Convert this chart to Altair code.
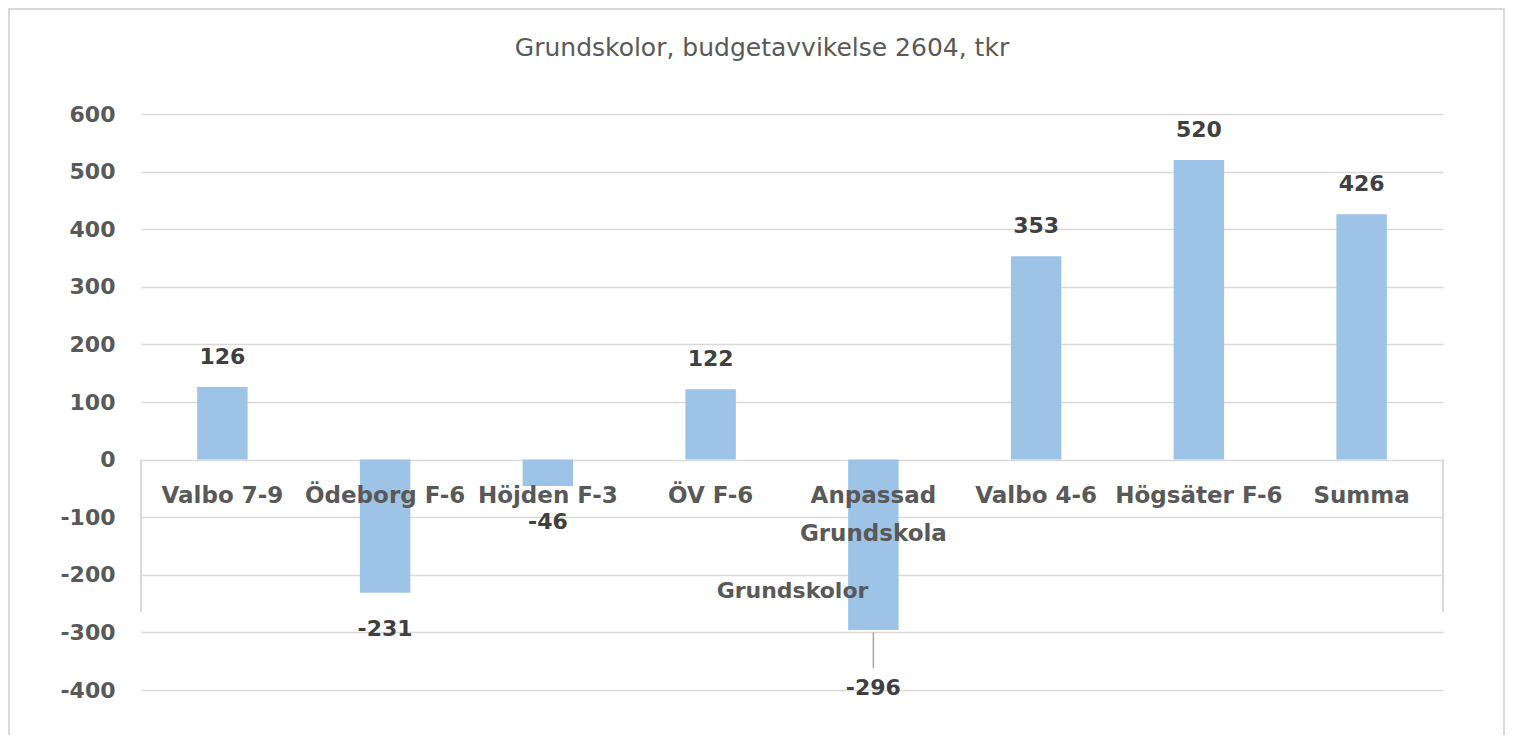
import altair as alt
import pandas as pd

title_text = "Grundskolor, budgetavvikelse 2604, tkr"
categories = ["Valbo 7-9", "Ödeborg F-6", "Höjden F-3", "ÖV F-6",
              "Anpassad Grundskola", "Valbo 4-6", "Högsäter F-6", "Summa"]
values = [126, -231, -46, 122, -296, 353, 520, 426]
y_ticks = [600, 500, 400, 300, 200, 100, 0, -100, -200, -300, -400]

df = pd.DataFrame({"Kategori": categories, "Värde": values})

FONT = "DejaVu Sans"
GREY = "#595959"
DARK = "#404040"
GRID = "#D9D9D9"
BAR = "#9DC3E6"

W, H = 1302, 576

xenc = alt.X(
    "Kategori:N",
    sort=categories,
    scale=alt.Scale(paddingInner=0.69, paddingOuter=0.345),
    axis=alt.Axis(
        orient="bottom",
        offset=-(H * 400 / 1000),
        domain=False,
        ticks=False,
        labelAngle=0,
        labelPadding=25,
        labelFont=FONT,
        labelFontSize=23,
        labelFontWeight="bold",
        labelColor=GREY,
        labelLineHeight=38,
        labelBaseline="top",
        labelExpr="datum.value == 'Anpassad Grundskola' ? ['Anpassad', 'Grundskola'] : datum.label",
        title="Grundskolor",
        titleFont=FONT,
        titleFontSize=22,
        titleFontWeight="bold",
        titleColor=GREY,
        titlePadding=35,
        zindex=2,
    ),
)

yscale = alt.Scale(domain=[-400, 600], nice=False, zero=False)
yenc = alt.Y(
    "Värde:Q",
    scale=yscale,
    axis=alt.Axis(
        values=y_ticks,
        domain=False,
        ticks=False,
        grid=True,
        gridColor=GRID,
        gridWidth=1.5,
        labelFont=FONT,
        labelFontSize=22,
        labelFontWeight="bold",
        labelColor=GREY,
        labelPadding=26,
        labelExpr="toString(datum.value)",
        title=None,
    ),
)

base = alt.Chart(df).transform_calculate(lbl="toString(datum['Värde'])")
xs = alt.X("Kategori:N", sort=categories)
ys = alt.Y("Värde:Q", scale=yscale)

bars = alt.Chart(df).mark_bar(color=BAR).encode(x=xenc, y=yenc, y2=alt.datum(0))

txt = dict(font=FONT, fontSize=22, fontWeight="bold", color=DARK, baseline="middle")

lab_pos = base.transform_filter("datum['Värde'] >= 0").mark_text(dy=-30, **txt).encode(
    x=xs, y=ys, text="lbl:N")

lab_neg = base.transform_filter(
    "datum['Värde'] < 0 && datum['Kategori'] != 'Anpassad Grundskola'"
).mark_text(dy=36, **txt).encode(x=xs, y=ys, text="lbl:N")

lab_moved = base.transform_filter("datum['Kategori'] == 'Anpassad Grundskola'").mark_text(
    dy=58, **txt).encode(x=xs, y=ys, text="lbl:N")

leader = alt.Chart(df).transform_filter("datum['Kategori'] == 'Anpassad Grundskola'").mark_rule(
    color="#A6A6A6", strokeWidth=1.5
).encode(x=xs, y=alt.datum(-300), y2=alt.datum(-362))

# frame lines of the category-label area
box_l = alt.Chart(df).transform_filter("datum['Kategori'] == 'Summa'").mark_rule(
    color=GRID, strokeWidth=2).encode(x=alt.value(0), y=alt.datum(0), y2=alt.datum(-265))
box_r = alt.Chart(df).transform_filter("datum['Kategori'] == 'Summa'").mark_rule(
    color=GRID, strokeWidth=2).encode(x=alt.value(W), y=alt.datum(0), y2=alt.datum(-265))

frame = alt.Chart(df).transform_filter("datum['Kategori'] == 'Summa'").mark_rect(
    fill=None, stroke=GRID, strokeWidth=2).encode(
    x=alt.value(-132), x2=alt.value(1363), y=alt.value(-105), y2=alt.value(640))

title = alt.Chart(pd.DataFrame({"t": [title_text]})).mark_text(
    font=FONT, fontSize=25, fontWeight="normal", color=GREY, baseline="middle", align="center"
).encode(x=alt.value(W / 2 - 30), y=alt.value(-66), text="t:N")

chart = alt.layer(frame, box_l, box_r, bars, leader, lab_pos, lab_neg, lab_moved, title).properties(
    width=W,
    height=H,
    autosize=alt.AutoSizeParams(type="none"),
    padding={"left": 133, "top": 106, "right": 63, "bottom": 45},
).configure_view(stroke=None)

chart.save("out.html", embed_options={"renderer": "svg", "actions": False})
